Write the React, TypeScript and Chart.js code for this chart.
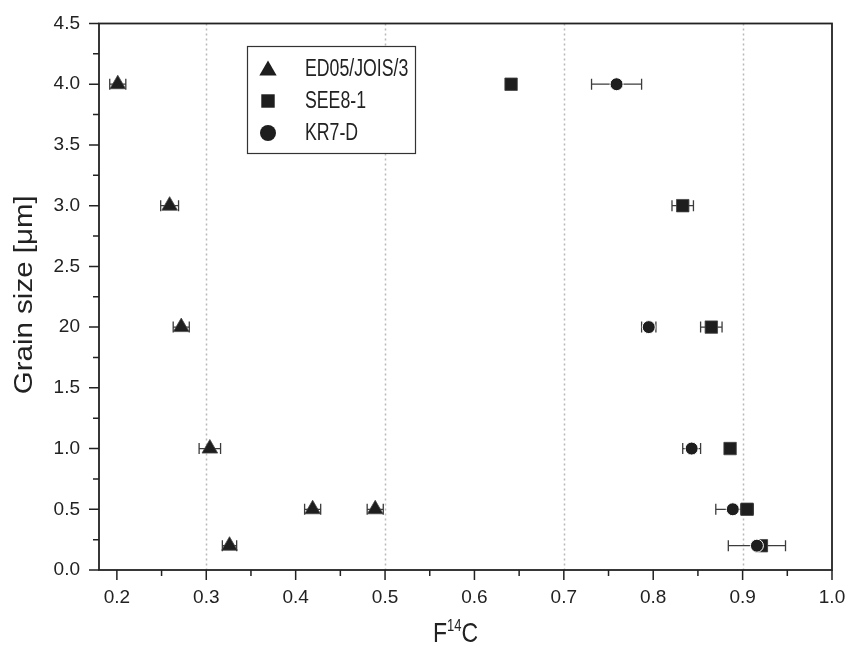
import React, { useEffect, useRef } from "react";
import { Chart, registerables } from "chart.js";

Chart.register(...registerables);

const FONT = "'Liberation Sans', Arial, sans-serif";

const seriesNames = ["ED05/JOIS/3", "SEE8-1", "KR7-D"];

const edX = [0.201, 0.259, 0.272, 0.304, 0.419, 0.489, 0.326];
const edY = [4.0, 3.0, 2.0, 1.0, 0.5, 0.5, 0.2];
const edErr = [0.009, 0.01, 0.009, 0.012, 0.009, 0.009, 0.008];

const seeX = [0.641, 0.833, 0.865, 0.886, 0.905, 0.921];
const seeY = [4.0, 3.0, 2.0, 1.0, 0.5, 0.2];
const seeErr = [0.004, 0.012, 0.012, 0.005, 0.007, 0.006];

const krX = [0.759, 0.795, 0.843, 0.889, 0.916];
const krY = [4.0, 2.0, 1.0, 0.5, 0.2];
const krErr = [0.028, 0.008, 0.01, 0.019, 0.032];

const xTickValues = [0.2, 0.3, 0.4, 0.5, 0.6, 0.7, 0.8, 0.9, 1.0];
const xTickLabels = ["0.2", "0.3", "0.4", "0.5", "0.6", "0.7", "0.8", "0.9", "1.0"];
const xMinorTicks = [0.25, 0.35, 0.45, 0.55, 0.65, 0.75, 0.85, 0.95];
const xGridValues = [0.3, 0.5, 0.7, 0.9];

const yTickValues = [0, 0.5, 1.0, 1.5, 2.0, 2.5, 3.0, 3.5, 4.0, 4.5];
const yTickLabels = ["0.0", "0.5", "1.0", "1.5", "20", "2.5", "3.0", "3.5", "4.0", "4.5"];
const yMinorTicks = [0.25, 0.75, 1.25, 1.75, 2.25, 2.75, 3.25, 3.75, 4.25];

const xTitleMain = "F";
const xTitleSup = "14";
const xTitleEnd = "C";
const yTitle = "Grain size [μm]";

const MARK = "#1e1e1e";
const ERR = "#3c3c3c";

function toPoints(xs: number[], ys: number[]) {
  return xs.map((x, i) => ({ x, y: ys[i] }));
}

const errors = [edErr, seeErr, krErr];

function drawMarker(ctx: CanvasRenderingContext2D, style: string, x: number, y: number, r: number) {
  ctx.beginPath();
  if (style === "triangle") {
    ctx.moveTo(x, y - r);
    ctx.lineTo(x + 0.866 * r, y + r / 2);
    ctx.lineTo(x - 0.866 * r, y + r / 2);
    ctx.closePath();
  } else if (style === "rect") {
    const s = r * Math.SQRT1_2;
    ctx.rect(x - s, y - s, 2 * s, 2 * s);
  } else {
    ctx.arc(x, y, r, 0, Math.PI * 2);
  }
  ctx.fillStyle = MARK;
  ctx.fill();
}

const decor = {
  id: "decor",
  beforeDatasetsDraw(chart: any) {
    const { ctx, chartArea: a, scales } = chart;
    const xs = scales.x;
    const ys = scales.y;
    ctx.save();
    ctx.strokeStyle = "#b8b8b8";
    ctx.lineWidth = 1.5;
    ctx.setLineDash([2, 3]);
    xGridValues.forEach((v) => {
      const px = Math.round(xs.getPixelForValue(v)) + 0.5;
      ctx.beginPath();
      ctx.moveTo(px, a.top);
      ctx.lineTo(px, a.bottom);
      ctx.stroke();
    });
    ctx.setLineDash([]);
    ctx.strokeStyle = ERR;
    ctx.lineWidth = 1.3;
    chart.data.datasets.forEach((ds: any, di: number) => {
      const errs = errors[di];
      ds.data.forEach((p: any, i: number) => {
        const e = errs[i];
        const x1 = xs.getPixelForValue(p.x - e);
        const x2 = xs.getPixelForValue(p.x + e);
        const py = ys.getPixelForValue(p.y);
        ctx.beginPath();
        ctx.moveTo(x1, py);
        ctx.lineTo(x2, py);
        ctx.moveTo(x1, py - 5.5);
        ctx.lineTo(x1, py + 5.5);
        ctx.moveTo(x2, py - 5.5);
        ctx.lineTo(x2, py + 5.5);
        ctx.stroke();
      });
    });
    ctx.restore();
  },
  afterDraw(chart: any) {
    const { ctx, chartArea: a, scales } = chart;
    const xs = scales.x;
    const ys = scales.y;
    ctx.save();
    ctx.strokeStyle = "#222";
    ctx.lineWidth = 1.8;
    ctx.strokeRect(a.left, a.top, a.right - a.left, a.bottom - a.top);
    ctx.lineWidth = 1.5;
    ctx.beginPath();
    xTickValues.forEach((v) => {
      const px = xs.getPixelForValue(v);
      ctx.moveTo(px, a.bottom);
      ctx.lineTo(px, a.bottom + 10);
    });
    xMinorTicks.forEach((v) => {
      const px = xs.getPixelForValue(v);
      ctx.moveTo(px, a.bottom);
      ctx.lineTo(px, a.bottom + 6);
    });
    yTickValues.forEach((v) => {
      const py = ys.getPixelForValue(v);
      ctx.moveTo(a.left, py);
      ctx.lineTo(a.left - 10, py);
    });
    yMinorTicks.forEach((v) => {
      const py = ys.getPixelForValue(v);
      ctx.moveTo(a.left, py);
      ctx.lineTo(a.left - 6, py);
    });
    ctx.stroke();

    // legend
    const lx = 247.5;
    const ly = 46.5;
    const lw = 168;
    const lh = 107;
    ctx.fillStyle = "#fff";
    ctx.fillRect(lx, ly, lw, lh);
    ctx.strokeStyle = "#333";
    ctx.lineWidth = 1.2;
    ctx.strokeRect(lx, ly, lw, lh);
    const rows = [69, 101, 133];
    const styles = ["triangle", "rect", "circle"];
    const radii = [10, 9.5, 8];
    seriesNames.forEach((name, i) => {
      drawMarker(ctx, styles[i], 268, rows[i] + (i === 0 ? 1.5 : 0), radii[i]);
      ctx.save();
      ctx.translate(305, rows[i] + 1);
      ctx.scale(0.77, 1);
      ctx.font = `23px ${FONT}`;
      ctx.textBaseline = "middle";
      ctx.textAlign = "left";
      ctx.fillStyle = "#222";
      ctx.fillText(name, 0, 0);
      ctx.restore();
    });

    // y title (stretched along reading direction like the source)
    ctx.save();
    ctx.translate(25, (a.top + a.bottom) / 2 - 2);
    ctx.rotate(-Math.PI / 2);
    ctx.scale(1.18, 1);
    ctx.font = `25px ${FONT}`;
    ctx.textAlign = "center";
    ctx.textBaseline = "middle";
    ctx.fillStyle = "#222";
    ctx.fillText(yTitle, 0, 0);
    ctx.restore();

    // x title with superscript, slightly stretched vertically
    const fMain = `23px ${FONT}`;
    const fSup = `13px ${FONT}`;
    ctx.font = fMain;
    const wF = ctx.measureText(xTitleMain).width;
    const wC = ctx.measureText(xTitleEnd).width;
    ctx.font = fSup;
    const wS = ctx.measureText(xTitleSup).width;
    const total = wF + wS + wC;
    const cx = (a.left + a.right) / 2 - 10;
    let x0 = cx - total / 2;
    const base = 642;
    ctx.save();
    ctx.translate(0, base);
    ctx.scale(1, 1.2);
    ctx.fillStyle = "#222";
    ctx.textBaseline = "alphabetic";
    ctx.textAlign = "left";
    ctx.font = fMain;
    ctx.fillText(xTitleMain, x0, 0);
    x0 += wF;
    ctx.font = fSup;
    ctx.fillText(xTitleSup, x0, -9.5);
    x0 += wS;
    ctx.font = fMain;
    ctx.fillText(xTitleEnd, x0, 0);
    ctx.restore();
    ctx.restore();
  },
};

export default function App() {
  const ref = useRef<HTMLCanvasElement | null>(null);
  useEffect(() => {
    if (!ref.current) return;
    Chart.defaults.font.family = FONT;
    const common = {
      pointBackgroundColor: MARK,
      pointBorderColor: "#444",
      pointBorderWidth: 0.8,
      showLine: false,
    };
    const chart = new Chart(ref.current, {
      type: "scatter",
      data: {
        datasets: [
          { ...common, label: seriesNames[0], data: toPoints(edX, edY), pointStyle: "triangle", pointRadius: 9, order: 2 },
          { ...common, label: seriesNames[1], data: toPoints(seeX, seeY), pointStyle: "rect", pointRadius: 8.8, order: 1 },
          { ...common, label: seriesNames[2], data: toPoints(krX, krY), pointStyle: "circle", pointRadius: 6.5, order: 0, pointBorderColor: "#fff", pointBorderWidth: 1 },
        ],
      },
      options: {
        animation: false,
        responsive: false,
        events: [],
        layout: { padding: { top: 23.5, right: 17, left: 0, bottom: 0 } },
        plugins: { legend: { display: false }, tooltip: { enabled: false } },
        scales: {
          x: {
            type: "linear",
            min: 0.18,
            max: 1.0,
            grid: { display: false, drawTicks: true, tickLength: 16 },
            border: { display: false },
            afterBuildTicks: (s: any) => {
              s.ticks = xTickValues.map((v) => ({ value: v }));
            },
            afterFit: (s: any) => {
              s.height = 81;
            },
            ticks: {
              callback: (_v: any, i: number) => xTickLabels[i],
              autoSkip: false,
              maxRotation: 0,
              padding: 0,
              color: "#222",
              font: { family: FONT, size: 19 },
            },
          },
          y: {
            type: "linear",
            min: 0,
            max: 4.5,
            grid: { display: false, drawTicks: true, tickLength: 19 },
            border: { display: false },
            afterBuildTicks: (s: any) => {
              s.ticks = yTickValues.map((v) => ({ value: v }));
            },
            afterFit: (s: any) => {
              s.width = 99;
            },
            ticks: {
              callback: (_v: any, i: number) => yTickLabels[i],
              autoSkip: false,
              padding: 0,
              color: "#222",
              font: { family: FONT, size: 19 },
            },
          },
        },
      },
      plugins: [decor],
    });
    return () => chart.destroy();
  }, []);
  return (
    <div style={{ position: "absolute", left: 0, top: 0, width: 849, height: 651, background: "#fff" }}>
      <canvas ref={ref} width={849} height={651} style={{ width: 849, height: 651, display: "block" }} />
    </div>
  );
}
